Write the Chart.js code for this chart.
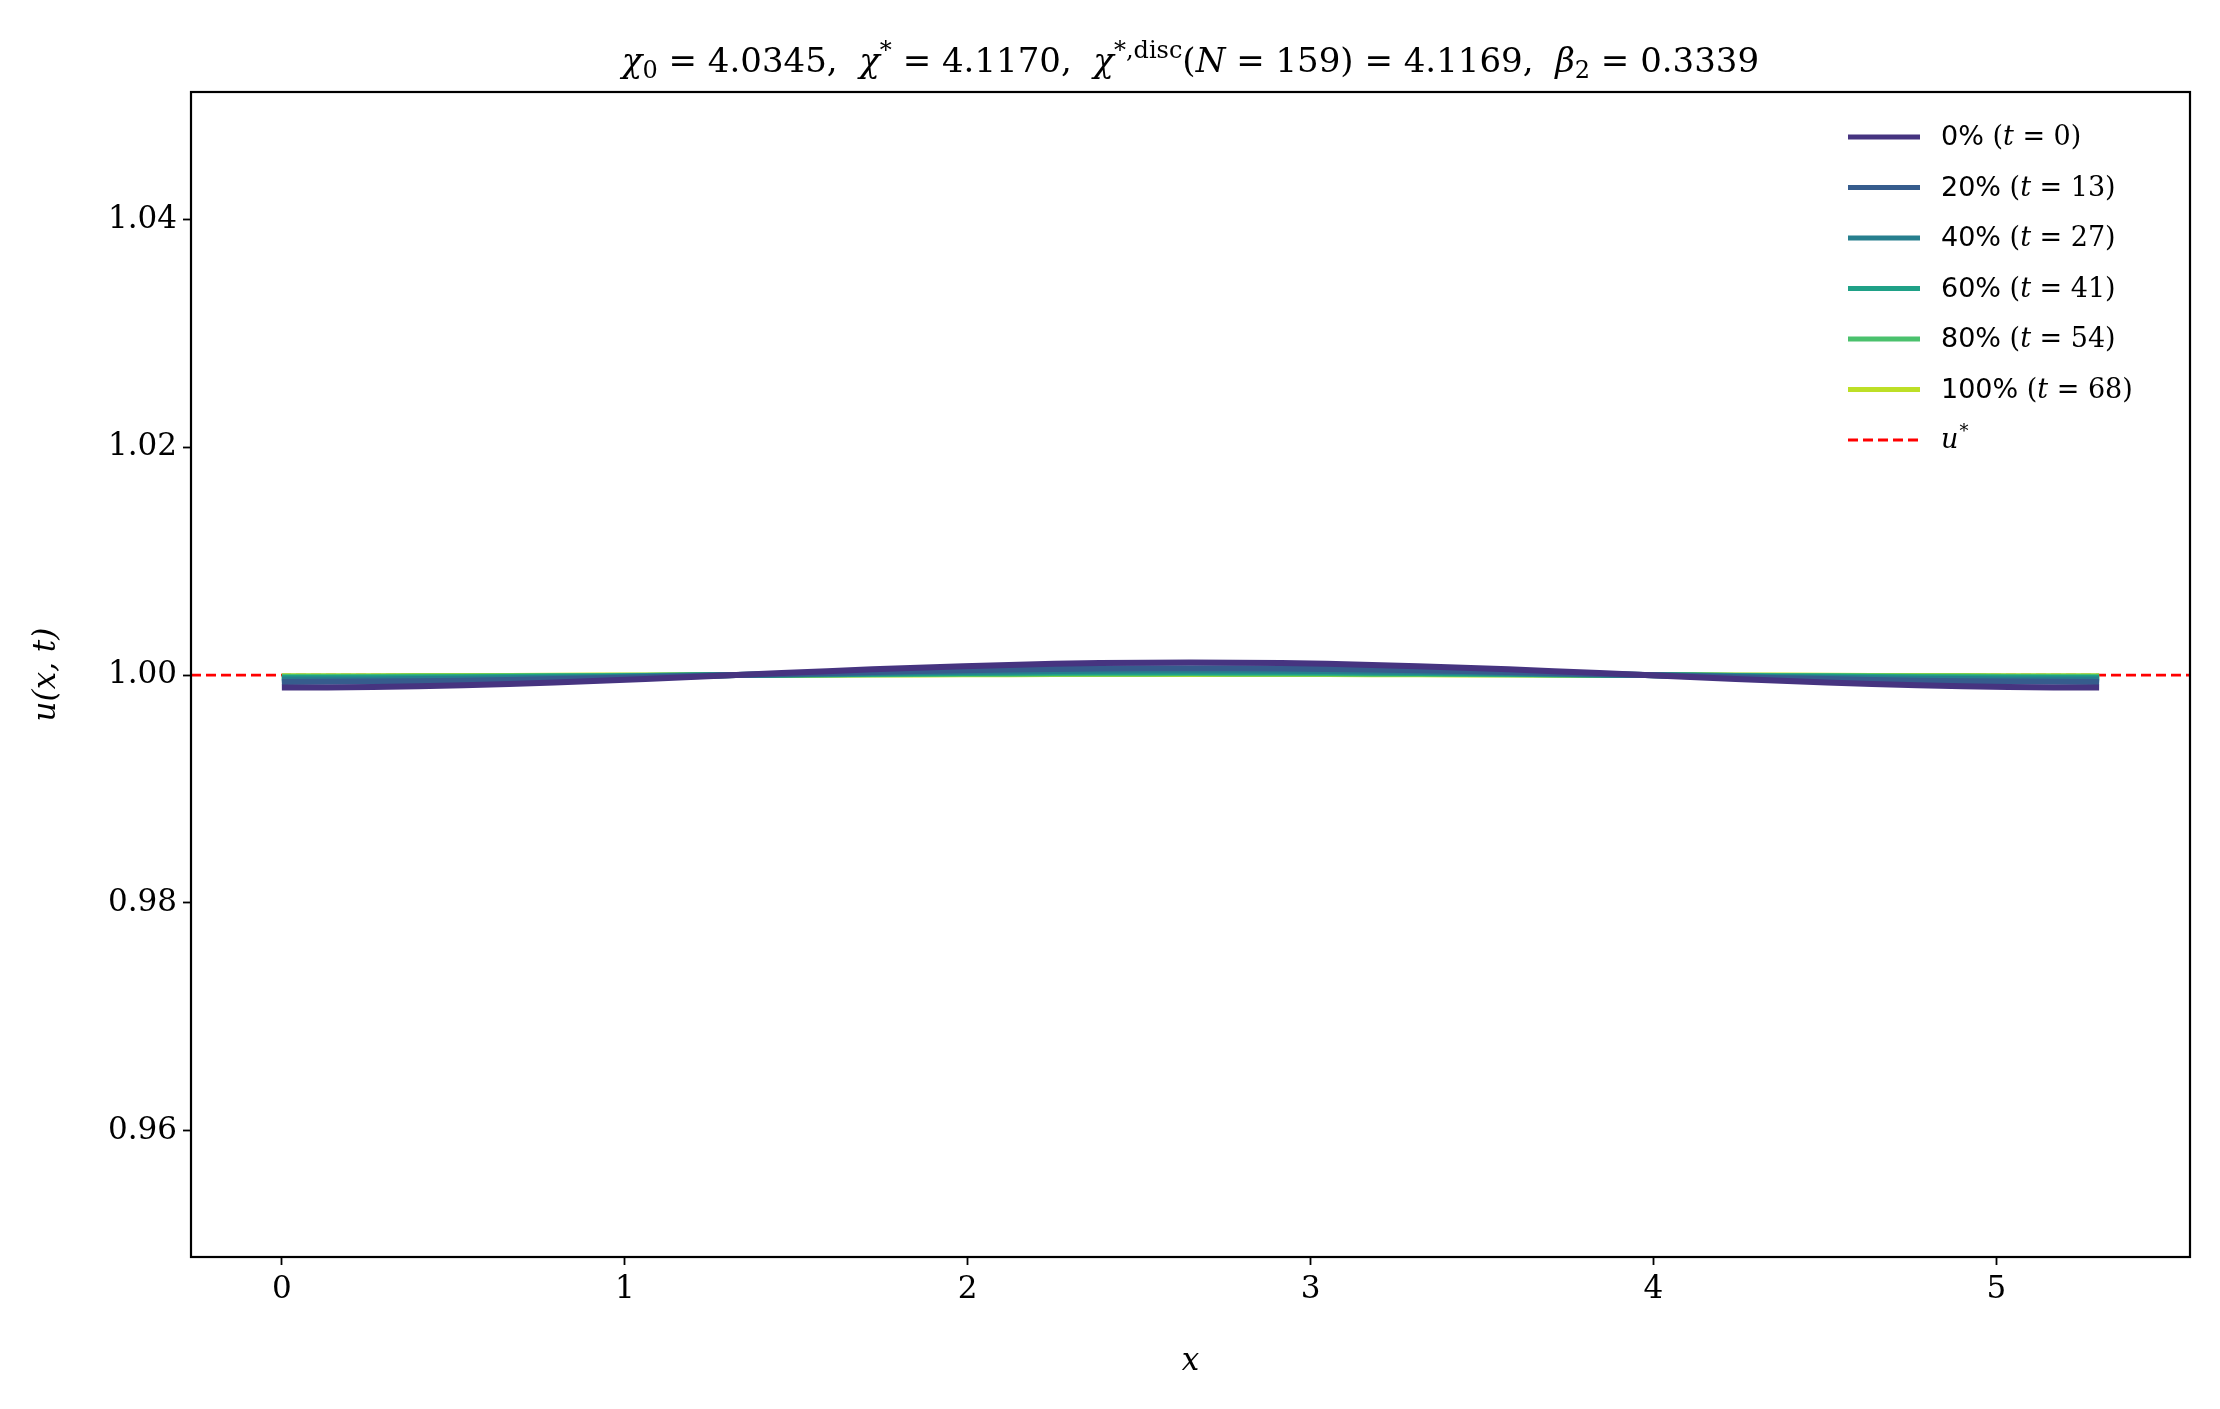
<!DOCTYPE html>
<html><head><meta charset="utf-8">
<script src="https://cdn.jsdelivr.net/npm/chart.js@4"></script>
<style>html,body{margin:0;padding:0;background:#fff}#w{width:2220px;height:1409px}</style>
</head><body><div id="w"><canvas id="c"></canvas></div>
<script>
const xValues = [0,0.265,0.53,0.795,1.06,1.325,1.59,1.855,2.12,2.385,2.65,2.915,3.18,3.445,3.71,3.975,4.24,4.505,4.77,5.035,5.3];
const u0   = [0.99890,0.99895,0.99911,0.99935,0.99966,1.00000,1.00034,1.00065,1.00089,1.00105,1.00110,1.00105,1.00089,1.00065,1.00034,1.00000,0.99966,0.99935,0.99911,0.99895,0.99890];
const u20  = [0.99940,0.99943,0.99951,0.99965,0.99981,1.00000,1.00019,1.00035,1.00049,1.00057,1.00060,1.00057,1.00049,1.00035,1.00019,1.00000,0.99981,0.99965,0.99951,0.99943,0.99940];
const u40  = [0.99960,0.99962,0.99968,0.99976,0.99988,1.00000,1.00012,1.00024,1.00032,1.00038,1.00040,1.00038,1.00032,1.00024,1.00012,1.00000,0.99988,0.99976,0.99968,0.99962,0.99960];
const u60  = [0.99975,0.99976,0.99980,0.99985,0.99992,1.00000,1.00008,1.00015,1.00020,1.00024,1.00025,1.00024,1.00020,1.00015,1.00008,1.00000,0.99992,0.99985,0.99980,0.99976,0.99975];
const u80  = [0.99985,0.99986,0.99988,0.99991,0.99995,1.00000,1.00005,1.00009,1.00012,1.00014,1.00015,1.00014,1.00012,1.00009,1.00005,1.00000,0.99995,0.99991,0.99988,0.99986,0.99985];
const u100 = [0.99990,0.99990,0.99992,0.99994,0.99997,1.00000,1.00003,1.00006,1.00008,1.00010,1.00010,1.00010,1.00008,1.00006,1.00003,1.00000,0.99997,0.99994,0.99992,0.99990,0.99990];
const uStar = 1.0;
const xTicks = [0,1,2,3,4,5];
const yTicks = [0.96,0.98,1.00,1.02,1.04];
const seriesLabels = [["0%","0"],["20%","13"],["40%","27"],["60%","41"],["80%","54"],["100%","68"]];
const seriesColors = ["#463480","#365c8d","#277f8e","#1fa187","#4ac16d","#bddf26"];
const seriesValues = [u0,u20,u40,u60,u80,u100];
const xMin=-0.265, xMax=5.565, yMin=0.9489, yMax=1.0512;

const datasets = seriesValues.map((arr,i)=>({
  label: seriesLabels[i][0], data: arr.map((v,j)=>({x:xValues[j],y:v})),
  borderColor: seriesColors[i], borderWidth:6, pointRadius:0, tension:0.4, fill:false
}));
datasets.push({label:"u*", data:[{x:xMin,y:uStar},{x:xMax,y:uStar}], borderColor:"#ff0000", borderWidth:2.8, borderDash:[10,5], pointRadius:0});

const serif = "'DejaVu Serif', 'Liberation Serif', serif";
const extras = {
  id:'extras',
  afterDraw(ch){
    const c=ch.ctx, a=ch.chartArea;
    c.save();
    c.strokeStyle='#000'; c.lineWidth=2.2; c.strokeRect(a.left,a.top,a.right-a.left,a.bottom-a.top);
    // title: [text, style, size, dy]
    c.fillStyle='#000'; c.textBaseline='alphabetic';
    const parts=[["χ","i",34,0],["0","n",24,6],[" = 4.0345,  ","n",34,0],["χ","i",34,0],["*","n",24,-14],[" = 4.1170,  ","n",34,0],["χ","i",34,0],["*,disc","n",24,-14],["(","n",34,0],["N","i",34,0],[" = 159) = 4.1169,  ","n",34,0],["β","i",34,0],["2","n",24,6],[" = 0.3339","n",34,0]];
    const fnt=p=>(p[1]==="i"?"italic ":"")+p[2]+"px "+serif;
    let tw=0; parts.forEach(p=>{c.font=fnt(p); tw+=c.measureText(p[0]).width;});
    let x=(a.left+a.right)/2-tw/2;
    parts.forEach(p=>{c.font=fnt(p); c.fillText(p[0],x,72+p[3]); x+=c.measureText(p[0]).width;});
    // legend
    const lx0=1848, lx1=1920, tx=1941, y0=137, dy=50.5;
    seriesLabels.forEach((s,i)=>{
      const y=y0+i*dy;
      c.strokeStyle=seriesColors[i]; c.lineWidth=5; c.setLineDash([]);
      c.beginPath(); c.moveTo(lx0,y); c.lineTo(lx1,y); c.stroke();
      const segs=[[s[0]+" ","27px 'DejaVu Sans', sans-serif"],["(","27px "+serif],["t","italic 27px "+serif],[" = "+s[1]+")","27px "+serif]];
      let xx=tx; c.fillStyle='#000'; c.textBaseline='middle';
      segs.forEach(g=>{c.font=g[1]; c.fillText(g[0],xx,y+1); xx+=c.measureText(g[0]).width;});
    });
    const y=y0+6*dy;
    c.strokeStyle='#ff0000'; c.lineWidth=2.8; c.setLineDash([10,5]);
    c.beginPath(); c.moveTo(lx0,y); c.lineTo(lx1,y); c.stroke(); c.setLineDash([]);
    c.font="italic 27px "+serif; c.fillText("u",tx,y+1);
    const uw=c.measureText("u").width; c.font="18px "+serif; c.fillText("*",tx+uw+1,y-8);
    c.restore();
  }
};

new Chart(document.getElementById('c'),{
  type:'line',
  data:{datasets},
  options:{
    responsive:true, maintainAspectRatio:false, animation:false,
    layout:{padding:{top:92,right:30,left:0,bottom:0}},
    plugins:{legend:{display:false},tooltip:{enabled:false},title:{display:false}},
    scales:{
      x:{type:'linear',min:xMin,max:xMax,
        afterBuildTicks:s=>{s.ticks=xTicks.map(v=>({value:v}));},
        afterFit:s=>{s.height=152;},
        grid:{display:true,drawOnChartArea:false,tickLength:8,tickColor:'#000',tickWidth:1.8},
        border:{display:false},
        ticks:{color:'#000',font:{family:serif,size:31},padding:6,callback:v=>String(v),maxRotation:0},
        title:{display:true,text:'x',color:'#000',font:{family:serif,size:31,style:'italic'},padding:{top:0,bottom:28}}
      },
      y:{type:'linear',min:yMin,max:yMax,
        afterBuildTicks:s=>{s.ticks=yTicks.map(v=>({value:v}));},
        afterFit:s=>{s.width=191;},
        grid:{display:true,drawOnChartArea:false,tickLength:8,tickColor:'#000',tickWidth:1.8},
        border:{display:false},
        ticks:{color:'#000',font:{family:serif,size:31},padding:6,callback:v=>v.toFixed(2)},
        title:{display:true,text:'u(x, t)',color:'#000',font:{family:serif,size:31,style:'italic'},padding:{top:28,bottom:0}}
      }
    }
  },
  plugins:[extras]
});
</script></body></html>
